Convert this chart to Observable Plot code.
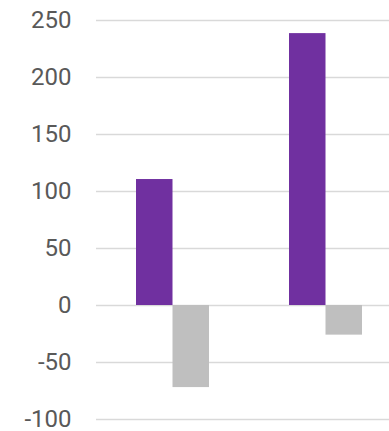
<!DOCTYPE html>
<html>
<head>
<meta charset="utf-8">
<script src="https://cdn.jsdelivr.net/npm/d3@7"></script>
<script src="https://cdn.jsdelivr.net/npm/@observablehq/plot@0.6"></script>
<style>
html, body { margin: 0; padding: 0; background: #fff; }
svg { display: block; }
</style>
</head>
<body>
<div id="chart"></div>
<script>
const groups = ["Group 1", "Group 2"];
const seriesA = [110.5, 238.5];
const seriesB = [-72, -26];
const yTicks = [-100, -50, 0, 50, 100, 150, 200, 250];

const dataA = groups.map((g, i) => ({group: g, value: seriesA[i]}));
const dataB = groups.map((g, i) => ({group: g, value: seriesB[i]}));

const chart = Plot.plot({
  width: 389,
  height: 431,
  marginLeft: 96,
  marginRight: 0,
  marginTop: 20,
  marginBottom: 12,
  style: {fontFamily: "Roboto, sans-serif", fontSize: "24px", color: "#595959", background: "#fff"},
  x: {domain: groups, range: [96, 402], padding: 0, axis: null},
  y: {domain: [-100, 250], ticks: yTicks, tickSize: 0, tickPadding: 25, label: null, tickFormat: d => String(d)},
  marks: [
    Plot.ruleY(yTicks, {stroke: "#d9d9d9", strokeWidth: 1.5}),
    Plot.barY(dataA, {x: "group", y: "value", fill: "#7030A0", insetLeft: 40, insetRight: 76.5}),
    Plot.barY(dataB, {x: "group", y: "value", fill: "#BFBFBF", insetLeft: 76.5, insetRight: 40})
  ]
});
document.getElementById("chart").appendChild(chart);
</script>
</body>
</html>
